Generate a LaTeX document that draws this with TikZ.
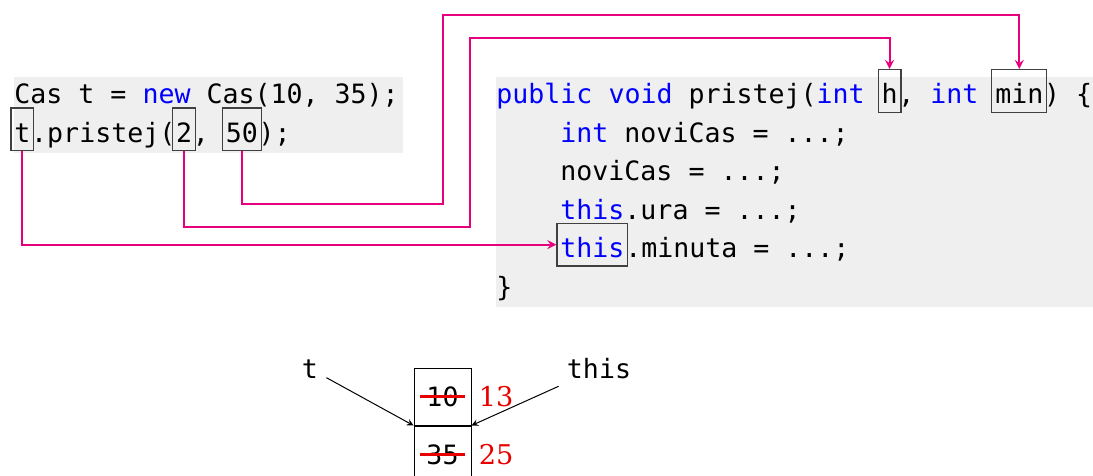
\documentclass[tikz,border=0pt]{standalone}
\usepackage{fontspec}
\setmonofont{DejaVu Sans Mono}
\newfontfamily\stevke{DejaVu Serif}
\usepackage{xcolor}
\usetikzlibrary{positioning,fit,arrows}
\definecolor{kodaozadje}{RGB}{239,239,239}
\definecolor{povezava}{RGB}{230,0,126}
\definecolor{kljucna}{RGB}{0,0,255}
\definecolor{novo}{RGB}{230,0,0}
\newcommand{\kw}[1]{\textcolor{kljucna}{#1}}
\newcommand{\kodafont}{\fontsize{13.3pt}{16pt}\ttfamily}

\begin{document}
\begin{tikzpicture}[x=0.5pt, y=-0.5pt,
		koda/.style={font=\kodafont, inner sep=0pt, text height=17pt, text depth=4pt, anchor=base west},
		okvir/.style={draw=black!75, line width=0.6pt, inner xsep=1.5pt, inner ysep=0pt},
		povez/.style={draw=povezava, line width=1pt, -stealth},
		celica/.style={draw, line width=0.5pt, minimum size=28.5pt, inner sep=0pt, font=\kodafont},
		precrtaj/.style={draw=novo, line width=1.5pt},
		nova/.style={text=novo, font=\fontsize{13.6pt}{16pt}\stevke, inner sep=0pt, anchor=west},
		oznaka/.style={font=\kodafont, inner sep=4pt, anchor=base},
		kazalec/.style={-stealth, line width=0.5pt}]
			\useasboundingbox (0,0) rectangle (1093,476);
			\fill[kodaozadje] (14,77) rectangle (403,153);
			\fill[kodaozadje] (496,77) rectangle (1093,307);
			\node[koda] (ustvari) at (14,104) {Cas t = \kw{new} Cas(10, 35);};
			\node[koda] (argT) at (14,142.4) {t};
			\node[koda, right=0pt of argT] (klic) {.pristej(};
			\node[koda, right=0pt of klic] (arg2) {2};
			\node[koda, right=0pt of arg2] (vejica) {,\ \null};
			\node[koda, right=0pt of vejica] (arg50) {50};
			\node[koda, right=0pt of arg50] (konec) {);};
			\node[koda] (glava) at (496,104) {\kw{public} \kw{void} pristej(\kw{int}\ \null};
			\node[koda, right=0pt of glava] (parH) {h};
			\node[koda, right=0pt of parH] (glava2) {, \kw{int}\ \null};
			\node[koda, right=0pt of glava2] (parMin) {min};
			\node[koda, right=0pt of parMin] (glava3) {) \{};
			\node[koda] (vrstica1) at (560,142.4) {\kw{int} noviCas = ...;};
			\node[koda] (vrstica2) at (560,180.8) {noviCas = ...;};
			\node[koda] (vrstica3) at (560,219.2) {\kw{this}.ura = ...;};
			\node[koda] (thisMin) at (560,257.6) {\kw{this}};
			\node[koda, right=0pt of thisMin] (vrstica4) {.minuta = ...;};
			\node[koda] (zaklepaj) at (496,296) {\}};
			\node[okvir, fit=(argT)] (okT) {};
			\node[okvir, fit=(arg2)] (ok2) {};
			\node[okvir, fit=(arg50)] (ok50) {};
			\node[okvir, fit=(parH)] (okH) {};
			\node[okvir, fit=(parMin)] (okMin) {};
			\node[okvir, fit=(thisMin)] (okThis) {};
			\coordinate (zavoj50) at (443,204);
			\coordinate (vrh50) at (443,15);
			\coordinate (zavoj2) at (470,227);
			\coordinate (vrh2) at (470,38);
			\draw[povez] (ok50.south) |- (zavoj50) -- (vrh50) -| (okMin.north);
			\draw[povez] (ok2.south) |- (zavoj2) -- (vrh2) -| (okH.north);
			\draw[povez] (okT.south) |- (okThis.west);
			\node[celica] (c1) at (442.5,396.5) {10};
			\node[celica, below=0pt of c1] (c2) {35};
			\draw[precrtaj] ([xshift=-11.25pt]c1.center) -- ([xshift=11.25pt]c1.center);
			\draw[precrtaj] ([xshift=-11.25pt]c2.center) -- ([xshift=11.25pt]c2.center);
			\node[nova, right=3.5pt of c1] (n1) {13};
			\node[nova, right=3.5pt of c2] (n2) {25};
			\node[oznaka] (oznT) at (310,378) {t};
			\node[oznaka] (oznThis) at (599,378) {this};
			\draw[kazalec] (oznT) -- (c1.south west);
			\draw[kazalec] (oznThis) -- (c1.south east);
		\end{tikzpicture}
\end{document}
